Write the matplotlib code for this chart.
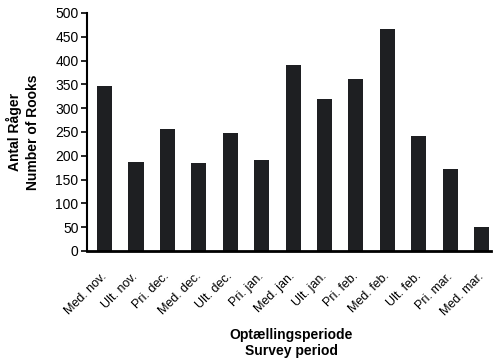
import matplotlib.pyplot as plt
import matplotlib.transforms as mtransforms

plt.rcParams['font.family'] = ['Liberation Sans', 'DejaVu Sans']

periods = ["Med. nov.", "Ult. nov.", "Pri. dec.", "Med. dec.", "Ult. dec.", "Pri. jan.",
           "Med. jan.", "Ult. jan.", "Pri. feb.", "Med. feb.", "Ult. feb.", "Pri. mar.", "Med. mar."]
rooks = [346, 187, 256, 185, 248, 191, 391, 320, 361, 466, 242, 172, 51]

fig = plt.figure(figsize=(4.94, 3.59), dpi=100)
ax = fig.add_axes([0.176, 0.301, 0.818, 0.663])
x = range(len(periods))
ax.bar(x, rooks, width=0.48, color='#1e1f22')

ax.set_xlim(-0.56, 12.3)
ax.set_ylim(0, 500)
ax.set_yticks(range(0, 501, 50))
ax.set_xticks(list(x))
ax.set_xticklabels(periods, rotation=45, ha='right', rotation_mode='anchor', fontsize=9)
ax.tick_params(axis='x', length=0, pad=14)
ax.tick_params(axis='y', length=4, width=1.2, labelsize=10, pad=2)
for s in ['top', 'right']:
    ax.spines[s].set_visible(False)
ax.spines['left'].set_linewidth(1.5)
ax.spines['bottom'].set_linewidth(2)

ax.set_ylabel("Antal Råger\nNumber of Rooks", fontsize=10, fontweight='bold',
              labelpad=11, linespacing=1.35)
ax.set_xlabel("Optællingsperiode\nSurvey period", fontsize=10, fontweight='bold',
              linespacing=1.2)
ax.xaxis.set_label_coords(0.505, -0.322)

# nudge the slanted labels a little to the left like the original
fig.canvas.draw()
shift = mtransforms.ScaledTranslation(-4 / 100, 0, fig.dpi_scale_trans)
for lab in ax.get_xticklabels():
    lab.set_transform(lab.get_transform() + shift)

fig.savefig("out.png", dpi=100)
